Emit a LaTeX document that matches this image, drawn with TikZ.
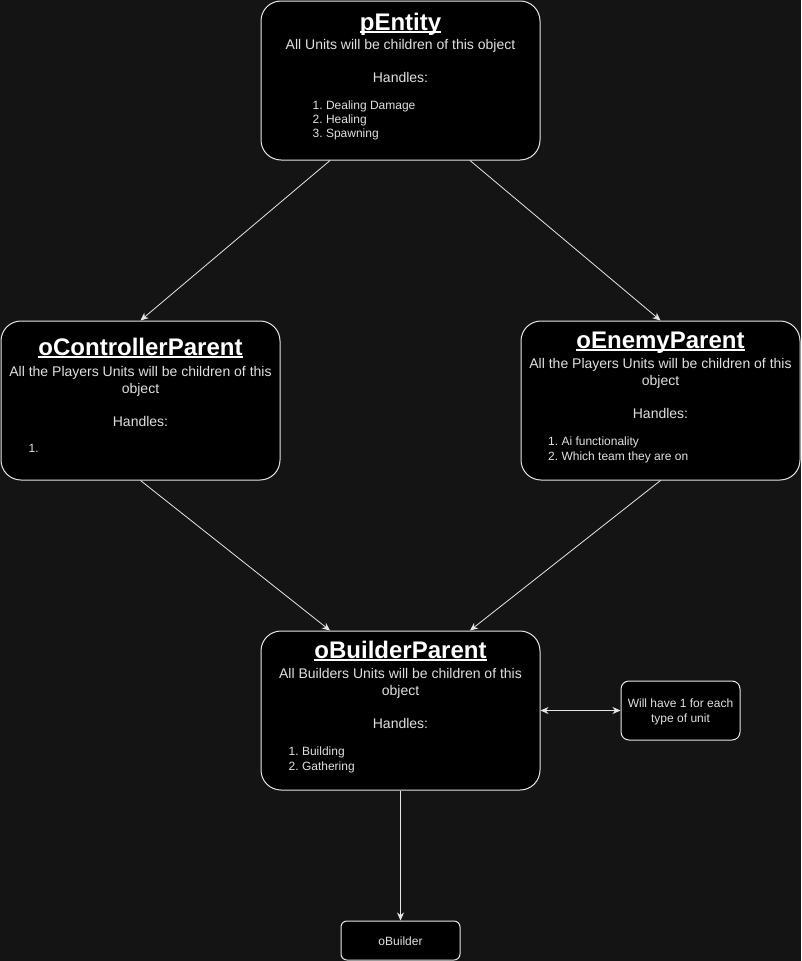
\documentclass[tikz,border=0pt]{standalone}
\usepackage{fontspec}
\setmainfont{Liberation Sans}
\usetikzlibrary{arrows.meta}
\definecolor{bg}{HTML}{141414}
\definecolor{edgec}{HTML}{E6E6E6}
\definecolor{txt}{HTML}{E0E0E0}
\frenchspacing
\begin{document}
\begin{tikzpicture}[x=1pt,y=-1pt,
 box/.style={draw=edgec, fill=black, line width=1pt, rounded corners=20pt, inner sep=0pt},
 smallbox/.style={draw=edgec, fill=black, line width=1pt, rounded corners=8pt, inner sep=0pt},
 title/.style={font=\bfseries\fontsize{24}{28}\selectfont, text=white, inner sep=0pt, anchor=base},
 body/.style={font=\fontsize{14}{17}\selectfont, text=txt, inner sep=0pt, anchor=base},
 small/.style={font=\fontsize{12}{14}\selectfont, text=txt, inner sep=0pt, anchor=base},
 item/.style={font=\fontsize{12}{14}\selectfont, text=txt, inner sep=0pt, anchor=base west},
 uline/.style={draw=white, line width=1.6pt},
 arr/.style={draw=edgec, line width=0.8pt, -{Stealth[length=8pt,width=7pt]}},
 darr/.style={draw=edgec, line width=0.8pt, {Stealth[length=8pt,width=7pt]}-{Stealth[length=8pt,width=7pt]}},
]
\fill[bg] (0,0) rectangle (801,961);
\useasboundingbox (0,0) rectangle (801,961);

% boxes
\node[box, minimum width=279pt, minimum height=159pt] (pe) at (400.5,80.5) {};
\node[box, minimum width=279pt, minimum height=159pt] (oc) at (140.5,400.5) {};
\node[box, minimum width=279pt, minimum height=159pt] (oe) at (660.5,400.5) {};
\node[box, minimum width=279pt, minimum height=159pt] (bp) at (400.5,710.5) {};
\node[smallbox, minimum width=119pt, minimum height=59pt] (nt) at (680.5,710.5) {};
\node[smallbox, rounded corners=6pt, minimum width=119pt, minimum height=39pt] (ob) at (400.5,940.5) {};

% pEntity
\node[title] (t1) at (400.5,30) {pEntity};
\draw[uline] ([yshift=-2pt]t1.base west) -- ([yshift=-2pt]t1.base east);
\node[body] (b1) at (400.5,49) {All Units will be children of this object};
\node[body] (h1) at (400.5,82.5) {Handles:};
\node[item] (l1a) at (312.5,109) {1. Dealing Damage};
\node[item] (l1b) at (312.5,123) {2. Healing};
\node[item] (l1c) at (312.5,137) {3. Spawning};

% oControllerParent
\node[title] (t2) at (140.5,355) {oControllerParent};
\draw[uline] ([yshift=-2pt]t2.base west) -- ([yshift=-2pt]t2.base east);
\node[body] (b2a) at (140.5,376) {All the Players Units will be children of this};
\node[body] (b2b) at (140.5,393) {object};
\node[body] (h2) at (140.5,426) {Handles:};
\node[item] (l2a) at (28.5,452) {1.};

% oEnemyParent
\node[title] (t3) at (660.5,348) {oEnemyParent};
\draw[uline] ([yshift=-2pt]t3.base west) -- ([yshift=-2pt]t3.base east);
\node[body] (b3a) at (660.5,368) {All the Players Units will be children of this};
\node[body] (b3b) at (660.5,385) {object};
\node[body] (h3) at (660.5,418) {Handles:};
\node[item] (l3a) at (548,445) {1. Ai functionality};
\node[item] (l3b) at (548,460) {2. Which team they are on};

% oBuilderParent
\node[title] (t4) at (400.5,658) {oBuilderParent};
\draw[uline] ([yshift=-2pt]t4.base west) -- ([yshift=-2pt]t4.base east);
\node[body] (b4a) at (400.5,678) {All Builders Units will be children of this};
\node[body] (b4b) at (400.5,695) {object};
\node[body] (h4) at (400.5,728) {Handles:};
\node[item] (l4a) at (288.5,755) {1. Building};
\node[item] (l4b) at (288.5,770) {2. Gathering};

% note
\node[small] (n1) at (680.5,707) {Will have 1 for each};
\node[small] (n2) at (680.5,722) {type of unit};

% oBuilder
\node[small] (obt) at (400.5,945) {oBuilder};

% connectors
\draw[arr] ([xshift=-70.5pt]pe.south) -- (oc.north);
\draw[arr] ([xshift=69.5pt]pe.south) -- (oe.north);
\draw[arr] (oc.south) -- ([xshift=-70.5pt]bp.north);
\draw[arr] (oe.south) -- ([xshift=69.5pt]bp.north);
\draw[darr] (bp.east) -- (nt.west);
\draw[arr] (bp.south) -- (ob.north);
\end{tikzpicture}
\end{document}
